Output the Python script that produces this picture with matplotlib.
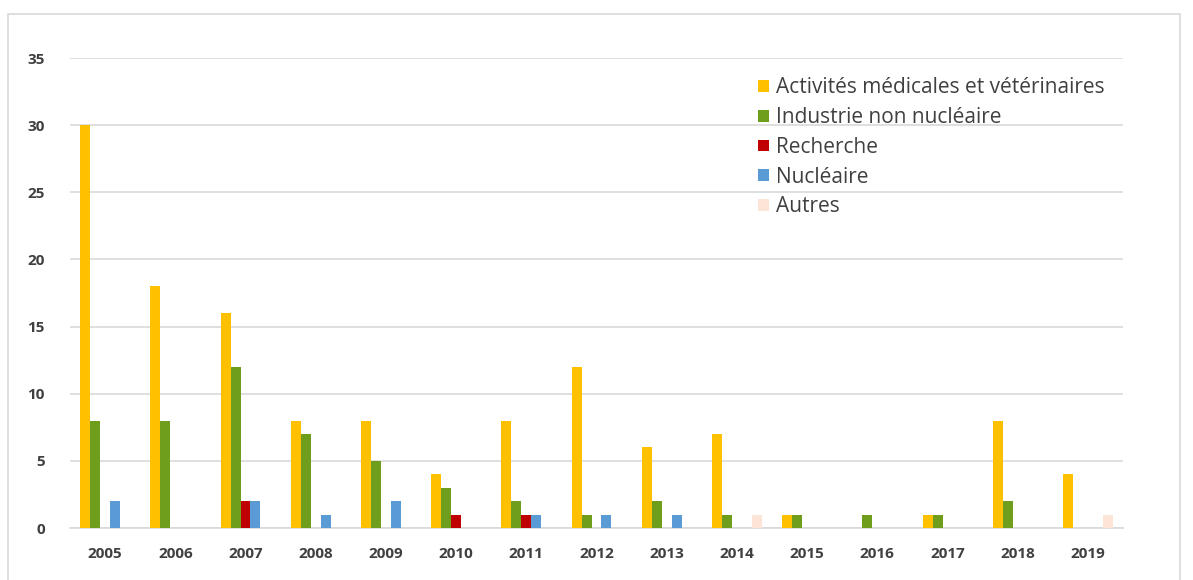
import matplotlib.pyplot as plt
import numpy as np
from matplotlib.patches import Rectangle

# Données
annees = ['2005', '2006', '2007', '2008', '2009', '2010', '2011', '2012',
          '2013', '2014', '2015', '2016', '2017', '2018', '2019']
medical = [30, 18, 16, 8, 8, 4, 8, 12, 6, 7, 1, 0, 1, 8, 4]
industrie = [8, 8, 12, 7, 5, 3, 2, 1, 2, 1, 1, 1, 1, 2, 0]
recherche = [0, 0, 2, 0, 0, 1, 1, 0, 0, 0, 0, 0, 0, 0, 0]
nucleaire = [2, 0, 2, 1, 2, 0, 1, 1, 1, 0, 0, 0, 0, 0, 0]
autres = [0, 0, 0, 0, 0, 0, 0, 0, 0, 1, 0, 0, 0, 0, 1]

series = [
    ('Activités médicales et vétérinaires', medical, '#FFC000'),
    ('Industrie non nucléaire', industrie, '#6F9E1C'),
    ('Recherche', recherche, '#C00000'),
    ('Nucléaire', nucleaire, '#5B9BD5'),
    ('Autres', autres, '#FCE4D6'),
]

plt.rcParams['font.family'] = ['Open Sans', 'DejaVu Sans']

fig = plt.figure(figsize=(11.93, 5.8), dpi=100)
ax = fig.add_axes([70 / 1193, 52 / 580, 1053 / 1193, 470 / 580])

# cadre autour du graphique
fig.patches.append(Rectangle((8 / 1193, -0.05), 1172 / 1193, 1.05 - 14 / 580,
                             transform=fig.transFigure, fill=False,
                             edgecolor='#d9d9d9', linewidth=1.2))

x = np.arange(len(annees))
w = 0.142
for i, (nom, vals, coul) in enumerate(series):
    ax.bar(x + (i - 2) * w, vals, width=w, color=coul, label=nom, zorder=3)

ax.set_xlim(-0.5, len(annees) - 0.5)
ax.set_ylim(0, 35)
ax.set_yticks(np.arange(0, 36, 5))
ax.set_xticks(x)
ax.set_xticklabels(annees)
ax.grid(axis='y', color='#d9d9d9', linewidth=1.2, zorder=0)
for s in ['top', 'right', 'left']:
    ax.spines[s].set_visible(False)
ax.spines['bottom'].set_color('#d9d9d9')
ax.spines['bottom'].set_linewidth(1.2)
ax.tick_params(length=0, labelsize=11, labelcolor='#404040')
ax.tick_params(axis='y', pad=18)
ax.tick_params(axis='x', pad=14)
for lab in ax.get_xticklabels() + ax.get_yticklabels():
    lab.set_fontweight('bold')

leg = ax.legend(loc='upper left', bbox_to_anchor=(748 / 1193, 1 - 67 / 580),
                bbox_transform=fig.transFigure, frameon=False, fontsize=15,
                handlelength=0.5, handleheight=0.5, handletextpad=0.35,
                labelspacing=0.42, borderpad=0)
for t in leg.get_texts():
    t.set_color('#404040')

fig.savefig('out.png', dpi=100)
